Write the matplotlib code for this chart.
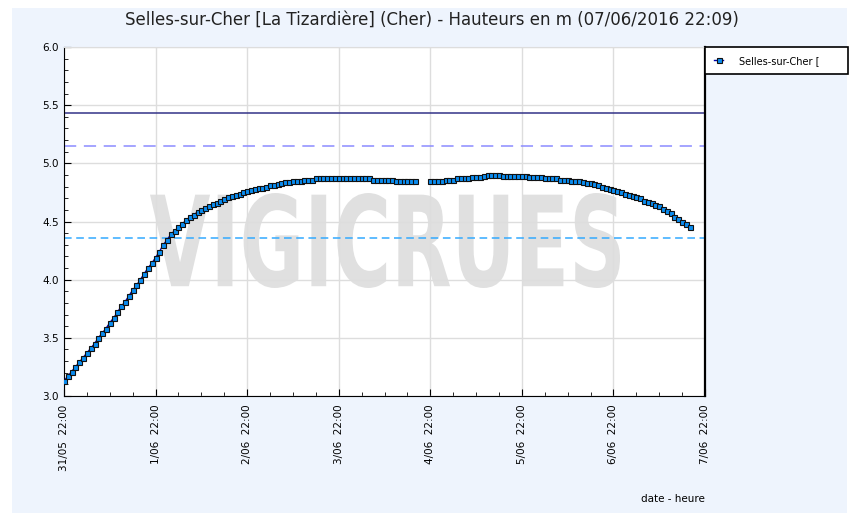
# Selles-sur-Cher - hauteurs
import numpy as np
import matplotlib
matplotlib.use('Agg')
import matplotlib.pyplot as plt
import matplotlib.dates as mdates
import pandas as pd
from matplotlib.patches import Rectangle, PathPatch
from matplotlib.textpath import TextPath
from matplotlib.font_manager import FontProperties
from matplotlib.transforms import Affine2D


debut = '2016-05-31 22:00'
fin_axe = '2016-06-07 22:00'

# hauteurs horaires (m), None = pas de mesure
hauteurs = [
    3.13, 3.17, 3.21, 3.25, 3.29, 3.33, 3.37, 3.41, 3.45, 3.50, 3.54, 3.58,
    3.63, 3.67, 3.72, 3.77, 3.81, 3.86, 3.91, 3.95, 4.00, 4.05, 4.10, 4.14,
    4.19, 4.24, 4.30, 4.34, 4.39, 4.42, 4.45, 4.48, 4.51, 4.54, 4.56, 4.58,
    4.60, 4.62, 4.63, 4.65, 4.66, 4.68, 4.69, 4.71, 4.72, 4.73, 4.74, 4.75,
    4.76, 4.77, 4.78, 4.79, 4.79, 4.80, 4.81, 4.81, 4.82, 4.83, 4.84, 4.84,
    4.85, 4.85, 4.85, 4.86, 4.86, 4.86, 4.87, 4.87, 4.87, 4.87, 4.87, 4.87,
    4.87, 4.87, 4.87, 4.87, 4.87, 4.87, 4.87, 4.87, 4.87, 4.86, 4.86, 4.86,
    4.86, 4.86, 4.86, 4.85, 4.85, 4.85, 4.85, 4.85, 4.85, None, None, None,
    4.85, 4.85, 4.85, 4.85, 4.86, 4.86, 4.86, 4.87, 4.87, 4.87, 4.87, 4.88,
    4.88, 4.88, 4.89, 4.90, 4.90, 4.90, 4.90, 4.89, 4.89, 4.89, 4.89, 4.89,
    4.89, 4.89, 4.88, 4.88, 4.88, 4.88, 4.87, 4.87, 4.87, 4.87, 4.86, 4.86,
    4.86, 4.85, 4.85, 4.85, 4.84, 4.83, 4.83, 4.82, 4.81, 4.80, 4.79, 4.78,
    4.77, 4.76, 4.75, 4.74, 4.73, 4.72, 4.71, 4.70, 4.68, 4.67, 4.66, 4.64,
    4.63, 4.61, 4.59, 4.57, 4.54, 4.52, 4.50, 4.48, 4.45,
]

# seuils horizontaux
seuil_haut = 5.43
seuil_moyen = 5.15
seuil_bas = 4.36

titre = 'Selles-sur-Cher [La Tizardière] (Cher) - Hauteurs en m (07/06/2016 22:09)'
legende = 'Selles-sur-Cher ['

dates = pd.date_range(debut, periods=len(hauteurs), freq='h')
valeurs = np.array([np.nan if v is None else v for v in hauteurs])

fig = plt.figure(figsize=(8.56, 5.15), dpi=100, facecolor='white')
# fond bleu clair
fig.patches.append(Rectangle((12 / 856, 2 / 515), 835 / 856, 505 / 515,
                             transform=fig.transFigure, facecolor='#eef4fd',
                             edgecolor='none', zorder=-10))

ax = fig.add_axes([64 / 856, 1 - 396 / 515, 641 / 856, 349 / 515])
ax.set_facecolor('white')

# filigrane
tp = TextPath((0, 0), 'VIGICRUES', size=100,
              prop=FontProperties(family='DejaVu Sans', weight='bold'))
bb = tp.get_extents()
sx = (470 / 856) / bb.width
sy = (95 / 515) / bb.height
tr = Affine2D().translate(-bb.x0, -bb.y0).scale(sx, sy).translate(150 / 856, 1 - 288 / 515)
ax.add_patch(PathPatch(tp, transform=tr + fig.transFigure, facecolor='#e0e0e0',
                       edgecolor='none', zorder=0.5))

ax.axhline(seuil_haut, color='#333388', lw=1.1, zorder=2)
ax.axhline(seuil_moyen, color='#8c8cff', lw=1.1, dashes=(8, 5), zorder=2)
ax.axhline(seuil_bas, color='#33aaff', lw=1.1, dashes=(5, 3), zorder=2)

ax.plot(dates, valeurs, color='#0000aa', lw=1, marker='s', markersize=3.6,
        markerfacecolor='#0a8cf0', markeredgecolor='#111111', markeredgewidth=0.8,
        label=legende, zorder=3)

ax.set_ylim(3.0, 6.0)
ax.set_xlim(pd.Timestamp(debut), pd.Timestamp(fin_axe))
ax.set_yticks(np.arange(3.0, 6.01, 0.5))
ax.set_yticks(np.arange(3.0, 6.01, 0.1), minor=True)
ax.xaxis.set_major_locator(mdates.HourLocator(byhour=[22]))
ax.xaxis.set_minor_locator(mdates.HourLocator(byhour=[4, 10, 16, 22]))
ax.xaxis.set_major_formatter(mdates.DateFormatter('%-d/%m  %H:%M'))
ax.yaxis.set_major_formatter(matplotlib.ticker.FormatStrFormatter('%.1f'))

ax.tick_params(axis='both', which='both', direction='in', color='black')
ax.tick_params(axis='both', which='major', length=5, labelsize=7.5)
ax.tick_params(axis='both', which='minor', length=3)
ax.tick_params(axis='x', labelrotation=90, pad=6)
ax.grid(True, which='major', color='#dddddd', lw=1, zorder=1)
ax.set_axisbelow(True)

for s in ['left', 'bottom', 'right']:
    ax.spines[s].set_color('black')
ax.spines['right'].set_linewidth(1.6)
ax.spines['top'].set_color('#dddddd')

leg = ax.legend(loc='upper left', bbox_to_anchor=(1.0, 1 - 26 / 349, 143 / 641, 26 / 349),
                mode='expand', borderaxespad=0,
                fancybox=False, edgecolor='black', framealpha=1, fontsize=7,
                handlelength=1.0, handletextpad=1.6, borderpad=0.9)
leg.get_frame().set_linewidth(1.2)

fig.text(432 / 856, 1 - 20 / 515, titre, ha='center', va='center', fontsize=12, color='#222222')
fig.text(705 / 856, 1 - 499 / 515, 'date - heure', ha='right', va='center', fontsize=7.5)

fig.savefig('out.png', dpi=100, facecolor='white')
